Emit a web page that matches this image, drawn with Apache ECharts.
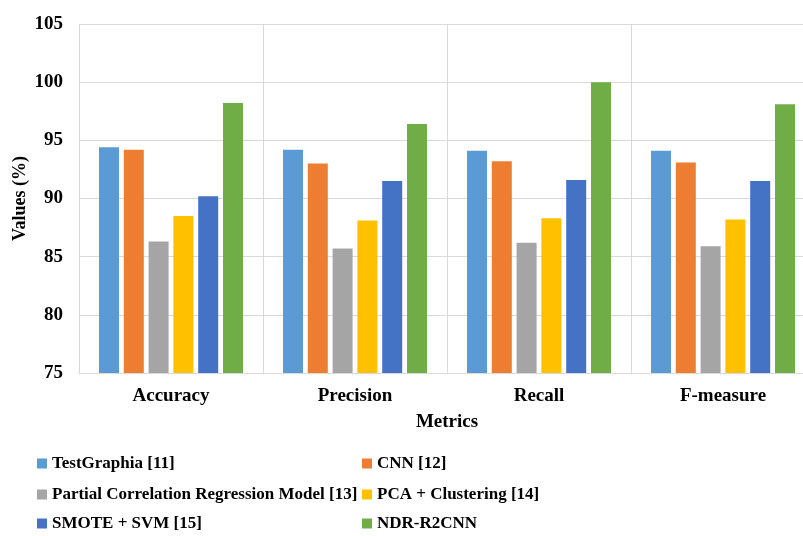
<!DOCTYPE html>
<html><head><meta charset="utf-8">
<script src="https://cdn.jsdelivr.net/npm/echarts@6/dist/echarts.min.js"></script>
<style>html,body{margin:0;padding:0;background:#fff}#c{width:803px;height:536px}</style>
</head><body><div id="c"></div>
<script>
const categories = ['Accuracy', 'Precision', 'Recall', 'F-measure'];
const seriesNames = ['TestGraphia [11]', 'CNN [12]', 'Partial Correlation Regression Model [13]', 'PCA + Clustering [14]', 'SMOTE + SVM [15]', 'NDR-R2CNN'];
const testGraphia = [94.4, 94.2, 94.1, 94.1];
const cnn = [94.2, 93.0, 93.2, 93.1];
const pcrm = [86.3, 85.7, 86.2, 85.9];
const pcaClustering = [88.5, 88.1, 88.3, 88.2];
const smoteSvm = [90.2, 91.5, 91.6, 91.5];
const ndrR2cnn = [98.2, 96.4, 100.0, 98.1];
const colors = ['#5B9BD5', '#ED7D31', '#A5A5A5', '#FFC000', '#4472C4', '#70AD47'];
const yTicks = { min: 75, max: 105, interval: 5 };

const allData = [testGraphia, cnn, pcrm, pcaClustering, smoteSvm, ndrR2cnn];
const font = "'Liberation Serif', 'Times New Roman', serif";
const legendPos = [[37, 455], [362, 455], [37, 486], [362, 486], [37, 515], [362, 515]];
const chart = echarts.init(document.getElementById('c'), null, { renderer: 'canvas' });
chart.setOption({
  animation: false,
  color: colors,
  textStyle: { fontFamily: font },
  grid: { left: 79, top: 24, width: 736, bottom: 163, containLabel: false, outerBoundsMode: 'none' },
  legend: seriesNames.map((n, i) => ({
    data: [n], left: legendPos[i][0], top: legendPos[i][1], padding: 0,
    itemWidth: 10, itemHeight: 10, icon: 'rect',
    textStyle: { fontFamily: font, fontWeight: 'bold', fontSize: 17, lineHeight: 17, color: '#000' }
  })),
  xAxis: {
    type: 'category', data: categories,
    name: 'Metrics', nameLocation: 'middle', nameGap: 40, nameMoveOverlap: false,
    nameTextStyle: { fontFamily: font, fontWeight: 'bold', fontSize: 19, color: '#000' },
    axisLine: { lineStyle: { color: '#d9d9d9' } },
    axisTick: { show: false },
    axisLabel: { fontFamily: font, fontWeight: 'bold', fontSize: 19, color: '#000', margin: 14 },
    splitLine: { show: true, interval: 0, lineStyle: { color: '#d9d9d9' } }
  },
  yAxis: {
    type: 'value', min: yTicks.min, max: yTicks.max, interval: yTicks.interval,
    name: 'Values (%)', nameLocation: 'middle', nameGap: 50, nameRotate: 90, nameMoveOverlap: false,
    nameTextStyle: { fontFamily: font, fontWeight: 'bold', fontSize: 18, color: '#000' },
    axisLine: { show: false }, axisTick: { show: false },
    axisLabel: { fontFamily: font, fontWeight: 'bold', fontSize: 19, color: '#000', margin: 16 },
    splitLine: { lineStyle: { color: '#d9d9d9' } }
  },
  series: seriesNames.map((n, i) => ({
    name: n, type: 'bar', data: allData[i], barWidth: 20, barGap: '24%'
  }))
});
</script></body></html>
